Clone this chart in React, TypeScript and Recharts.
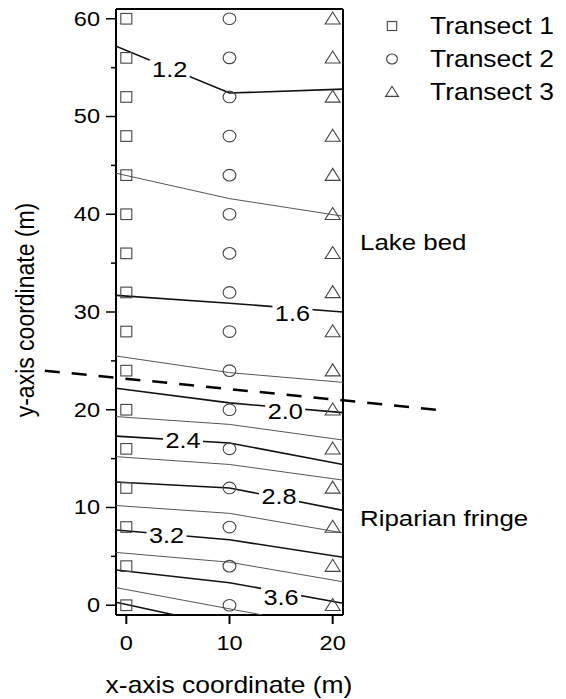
import React from "react";
import { ScatterChart, Scatter, XAxis, YAxis, ReferenceLine } from "recharts";

const FONT = '"Liberation Sans", Arial, sans-serif';
const STRETCH = 1.15;

// sampling grid
const transectNames = ["Transect 1", "Transect 2", "Transect 3"];
const transectX = [0, 10, 20];
const sampleY = [0, 4, 8, 12, 16, 20, 24, 28, 32, 36, 40, 44, 48, 52, 56, 60];

// contours (level, x and y of each vertex)
const levels = [1.2, 1.4, 1.6, 1.8, 2.0, 2.2, 2.4, 2.6, 2.8, 3.0, 3.2, 3.4, 3.6, 3.8, 4.0];
const contourXs = [
  [-1, 10, 21],
  [-1, 10, 21],
  [-1, 10, 21],
  [-1, 10, 21],
  [-1, 10, 21],
  [-1, 10, 21],
  [-1, 10, 21],
  [-1, 10, 21],
  [-1, 10, 21],
  [-1, 10, 21],
  [-1, 10, 21],
  [-1, 10, 21],
  [-1, 10, 21],
  [-1, 13.2],
  [-1, 4.7],
];
const contourYs = [
  [57.2, 52.4, 52.8],
  [44.2, 41.6, 39.8],
  [31.7, 30.9, 30.0],
  [25.5, 23.8, 22.8],
  [22.2, 20.7, 19.7],
  [19.3, 18.5, 16.9],
  [17.3, 16.6, 14.4],
  [15.2, 14.4, 12.8],
  [12.6, 12.0, 9.7],
  [10.2, 9.4, 7.4],
  [7.7, 6.7, 4.9],
  [5.4, 4.4, 2.4],
  [3.6, 2.3, 0.2],
  [1.8, -1],
  [0.3, -1],
];

// contour labels
const labelText = ["1.2", "1.6", "2.0", "2.4", "2.8", "3.2", "3.6"];
const labelX = [4.2, 16.1, 15.4, 5.5, 14.8, 3.9, 15.0];
const labelY = [54.8, 29.8, 19.8, 16.8, 11.1, 7.1, 0.8];

// boundary between lake bed and riparian fringe
const boundaryX = [-7.9, 30.1];
const boundaryY = [24.0, 20.0];

const yTicks = [0, 5, 10, 15, 20, 25, 30, 35, 40, 45, 50, 55, 60];
const xTicks = [0, 10, 20];

function SText({ x, y, size, anchor = "start", rotate = false, children }: any) {
  const t = `translate(${x},${y}) scale(${STRETCH},1)` + (rotate ? " rotate(-90)" : "");
  return (
    <text
      transform={t}
      fontSize={size}
      fontFamily={FONT}
      textAnchor={anchor}
      dominantBaseline="central"
      fill="#000"
    >
      {children}
    </text>
  );
}

function Marker({ kind, cx, cy, s = 1 }: any) {
  const st = { fill: "none", stroke: "#444", strokeWidth: 1.1 };
  if (kind === 0) return <rect x={cx - 5.5 * s} y={cy - 5.3 * s} width={11 * s} height={10.6 * s} {...st} />;
  if (kind === 1) return <ellipse cx={cx} cy={cy} rx={6.4 * s} ry={5.8 * s} {...st} />;
  return (
    <polygon
      points={`${cx},${cy - 6.8 * s} ${cx - 7.5 * s},${cy + 5.2 * s} ${cx + 7.5 * s},${cy + 5.2 * s}`}
      {...st}
    />
  );
}

const Empty = () => <g />;

function LabelShape(props: any) {
  const { cx, cy, payload } = props;
  return (
    <g>
      <rect x={cx - 20} y={cy - 10} width={40} height={20} fill="#fff" />
      <SText x={cx} y={cy} size={22} anchor="middle">
        {payload.text}
      </SText>
    </g>
  );
}

function YTick(props: any) {
  const { x, y, payload } = props;
  const major = payload.value % 10 === 0;
  return (
    <g>
      <line x1={x - (major ? 10 : 5)} x2={x} y1={y} y2={y} stroke="#000" strokeWidth={1.5} />
      {major && (
        <SText x={x - 16} y={y} size={20.5} anchor="end">
          {payload.value}
        </SText>
      )}
    </g>
  );
}

function XTick(props: any) {
  const { x, y, payload } = props;
  return (
    <SText x={x} y={y + 19} size={20.5} anchor="middle">
      {payload.value}
    </SText>
  );
}

export default function App() {
  const contours = levels.map((lv, i) => ({
    level: lv,
    major: i % 2 === 0,
    data: contourXs[i].map((x, j) => ({ x, y: contourYs[i][j] })),
  }));
  const labels = labelText.map((t, i) => ({ x: labelX[i], y: labelY[i], text: t }));
  const transects = transectX.map((tx) => sampleY.map((y) => ({ x: tx, y })));

  return (
    <div style={{ position: "absolute", left: 0, top: 0, width: 566, height: 699, background: "#fff" }}>
      <ScatterChart width={566} height={699} margin={{ top: 9, right: 223, bottom: 54, left: 56 }}>
        <XAxis
          type="number"
          dataKey="x"
          domain={[-1, 21]}
          ticks={xTicks}
          height={30}
          stroke="#000"
          strokeWidth={2}
          tickSize={9}
          tickMargin={0}
          tick={XTick}
          allowDataOverflow
        />
        <YAxis
          type="number"
          dataKey="y"
          domain={[-1, 61]}
          ticks={yTicks}
          width={60}
          stroke="#000"
          strokeWidth={2}
          tickLine={false}
          tickSize={0}
          tickMargin={0}
          tick={YTick}
          interval={0}
          allowDataOverflow
        />
        <ReferenceLine x={21} stroke="#000" strokeWidth={2} ifOverflow="visible" />
        <ReferenceLine y={61} stroke="#000" strokeWidth={2} ifOverflow="visible" />
        {contours.map((c) => (
          <Scatter
            key={c.level}
            data={c.data}
            fill={c.major ? "#111" : "#555"}
            line={{ stroke: c.major ? "#111" : "#555", strokeWidth: c.major ? 1.6 : 1 }}
            shape={Empty}
            isAnimationActive={false}
          />
        ))}
        {transects.map((d, k) => (
          <Scatter
            key={transectNames[k]}
            name={transectNames[k]}
            data={d}
            shape={(p: any) => <Marker kind={k} cx={p.cx} cy={p.cy} />}
            isAnimationActive={false}
          />
        ))}
        <Scatter data={labels} shape={LabelShape} isAnimationActive={false} />
        <ReferenceLine
          segment={[
            { x: boundaryX[0], y: boundaryY[0] },
            { x: boundaryX[1], y: boundaryY[1] },
          ]}
          ifOverflow="visible"
          stroke="#000"
          strokeWidth={2.5}
          strokeDasharray="15 12"
        />
      </ScatterChart>
      <svg
        width={566}
        height={699}
        style={{ position: "absolute", left: 0, top: 0, pointerEvents: "none" }}
      >
        {transectNames.map((n, k) => (
          <g key={n}>
            <Marker kind={k} cx={392} cy={26 + k * 33} s={0.85} />
            <SText x={430} y={26 + k * 33} size={23}>
              {n}
            </SText>
          </g>
        ))}
        <SText x={360} y={242} size={22.5}>
          Lake bed
        </SText>
        <SText x={360} y={518} size={22.5}>
          Riparian fringe
        </SText>
        <SText x={229} y={685} size={23} anchor="middle">
          x-axis coordinate (m)
        </SText>
        <SText x={25} y={310} size={23} anchor="middle" rotate>
          y-axis coordinate (m)
        </SText>
      </svg>
    </div>
  );
}
